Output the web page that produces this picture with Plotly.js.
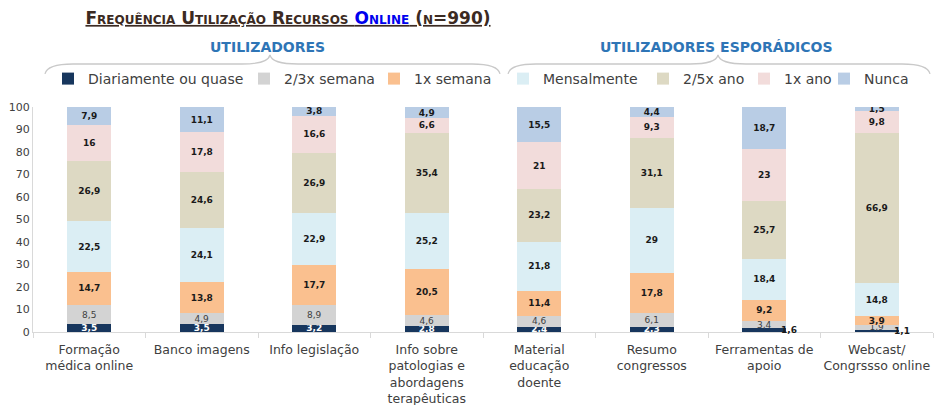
<!DOCTYPE html>
<html>
<head>
<meta charset="utf-8">
<script src="https://cdn.plot.ly/plotly-3.0.1.min.js"></script>
<style>html,body{margin:0;padding:0;background:#fff;}#chart{width:938px;height:405px;}</style>
</head>
<body>
<div id="chart"></div>
<script>
const categories = ['Formação<br>médica online', 'Banco imagens', 'Info legislação',
  'Info sobre<br>patologias e<br>abordagens<br>terapêuticas', 'Material<br>educação<br>doente',
  'Resumo<br>congressos', 'Ferramentas de<br>apoio', 'Webcast/<br>Congrssso online'];

const seriesNames = ['Diariamente ou quase', '2/3x semana', '1x semana', 'Mensalmente', '2/5x ano', '1x ano', 'Nunca'];

const diariamente = [3.5, 3.5, 3.2, 2.8, 2.4, 2.3, 1.6, 1.1];
const semana23    = [8.5, 4.9, 8.9, 4.6, 4.6, 6.1, 3.4, 1.9];
const semana1     = [14.7, 13.8, 17.7, 20.5, 11.4, 17.8, 9.2, 3.9];
const mensal      = [22.5, 24.1, 22.9, 25.2, 21.8, 29, 18.4, 14.8];
const ano25       = [26.9, 24.6, 26.9, 35.4, 23.2, 31.1, 25.7, 66.9];
const ano1        = [16, 17.8, 16.6, 6.6, 21, 9.3, 23, 9.8];
const nunca       = [7.9, 11.1, 3.8, 4.9, 15.5, 4.4, 18.7, 1.5];

const seriesValues = [diariamente, semana23, semana1, mensal, ano25, ano1, nunca];
const colors = ['#17365D', '#D3D3D3', '#FAC08F', '#DBEEF4', '#DDD9C3', '#F2DCDB', '#B9CDE5'];
const textColors = ['#FFFFFF', '#404040', '#1A1A1A', '#1A1A1A', '#1A1A1A', '#1A1A1A', '#1A1A1A'];
const textWeights = ['bold', 'normal', 'bold', 'bold', 'bold', 'bold', 'bold'];
// legend text start positions (px) measured from reference
const legendTextPx = [88, 284, 414, 543, 683, 784, 864];

const W = 938, H = 405;
const M = {l: 33, r: 5, t: 107, b: 73};
const PW = W - M.l - M.r, PH = H - M.t - M.b;
const px2x = p => (p - M.l) / PW;
const py2y = p => (H - M.b - p) / PH;

const fmt = v => String(v).replace('.', ',');

const traces = seriesValues.map((vals, i) => ({
  type: 'bar',
  name: seriesNames[i],
  x: categories,
  y: vals,
  text: vals.map(v => (i === 0 && v < 2) ? '' : fmt(v)),
  texttemplate: '%{text}',
  textposition: 'inside',
  insidetextanchor: 'middle',
  textangle: 0,
  constraintext: 'none',
  textfont: {family: 'DejaVu Sans, sans-serif', size: 9, color: textColors[i], weight: textWeights[i]},
  marker: {color: colors[i], line: {width: 0}},
  hoverinfo: 'x+y+name',
  legend: i === 0 ? 'legend' : 'legend' + (i + 1)
}));

// small values of the first series drawn just beside the bar
const smallAnn = [];
diariamente.forEach((v, k) => {
  if (v < 2) {
    smallAnn.push({x: categories[k], y: v / 2, xref: 'x', yref: 'y', text: '<b>' + fmt(v) + '</b>',
      showarrow: false, xshift: 25, yshift: 0, font: {family: 'DejaVu Sans, sans-serif', size: 9, color: '#1A1A1A'}});
  }
});

const layout = {
  width: W, height: H,
  margin: M,
  paper_bgcolor: '#FFFFFF',
  plot_bgcolor: '#FFFFFF',
  barmode: 'stack',
  bargap: 0.61,
  font: {family: 'DejaVu Sans, sans-serif', color: '#404040'},
  uniformtext: {mode: 'show', minsize: 9},
  title: {
    text: 'Frequência Utilização Recursos <span style="color:#0000EE">Online</span> (n=990)',
    x: 288 / W, xanchor: 'center', y: 1 - 18 / H, yanchor: 'middle',
    font: {family: 'DejaVu Sans, sans-serif', size: 17, color: '#3B2A22', weight: 'bold', variant: 'small-caps', lineposition: 'under'}
  },
  xaxis: {
    type: 'category',
    showline: true, linecolor: '#D9D9D9', linewidth: 1,
    ticks: 'outside', tickson: 'boundaries', ticklen: 5, tickcolor: '#D9D9D9',
    tickangle: 0, automargin: false, ticklabelstandoff: 6,
    tickfont: {size: 12.5, color: '#404040'},
    showgrid: false, zeroline: false
  },
  yaxis: {
    range: [0, 100], dtick: 10, tick0: 0,
    showline: true, linecolor: '#D9D9D9', linewidth: 1,
    ticks: '', showgrid: false, zeroline: false, automargin: false,
    tickfont: {size: 11, color: '#404040'}
  },
  showlegend: true,
  annotations: [
    {text: '<b>UTILIZADORES</b>', xref: 'paper', yref: 'paper', x: px2x(267), y: py2y(47), showarrow: false,
      xanchor: 'center', yanchor: 'middle', font: {family: 'DejaVu Sans, sans-serif', size: 14, color: '#2E75B6'}},
    {text: '<b>UTILIZADORES ESPORÁDICOS</b>', xref: 'paper', yref: 'paper', x: px2x(716), y: py2y(47), showarrow: false,
      xanchor: 'center', yanchor: 'middle', font: {family: 'DejaVu Sans, sans-serif', size: 14, color: '#2E75B6'}}
  ].concat(smallAnn),
  shapes: []
};

// legends, one per series, placed like the reference
seriesNames.forEach((n, i) => {
  const key = i === 0 ? 'legend' : 'legend' + (i + 1);
  layout[key] = {
    x: px2x(legendTextPx[i] - 40), xanchor: 'left', xref: 'paper',
    y: py2y(63), yanchor: 'top', yref: 'paper',
    orientation: 'h', bgcolor: 'rgba(0,0,0,0)', borderwidth: 0,
    font: {size: 14, color: '#404040'}, itemwidth: 30, itemclick: false
  };
});

// curly braces above the legend groups
function brace(x0, x1, xm, yEnd, yLine, yPeak) {
  const r = 14;
  const P = (a, b) => px2x(a).toFixed(4) + ',' + py2y(b).toFixed(4);
  return 'M' + P(x0, yEnd) +
    ' Q' + P(x0 + 2, yLine) + ' ' + P(x0 + r * 2, yLine) +
    ' L' + P(xm - r * 2, yLine) +
    ' Q' + P(xm - 2, yLine) + ' ' + P(xm, yPeak) +
    ' Q' + P(xm + 2, yLine) + ' ' + P(xm + r * 2, yLine) +
    ' L' + P(x1 - r * 2, yLine) +
    ' Q' + P(x1 - 2, yLine) + ' ' + P(x1, yEnd);
}
layout.shapes.push({type: 'path', xref: 'paper', yref: 'paper', path: brace(45, 500, 270, 74, 64, 55),
  line: {color: '#C9C9C9', width: 1.3}});
layout.shapes.push({type: 'path', xref: 'paper', yref: 'paper', path: brace(508, 930, 718, 74, 64, 55),
  line: {color: '#C9C9C9', width: 1.3}});

Plotly.newPlot('chart', traces, layout, {displayModeBar: false, responsive: false});
</script>
</body>
</html>
